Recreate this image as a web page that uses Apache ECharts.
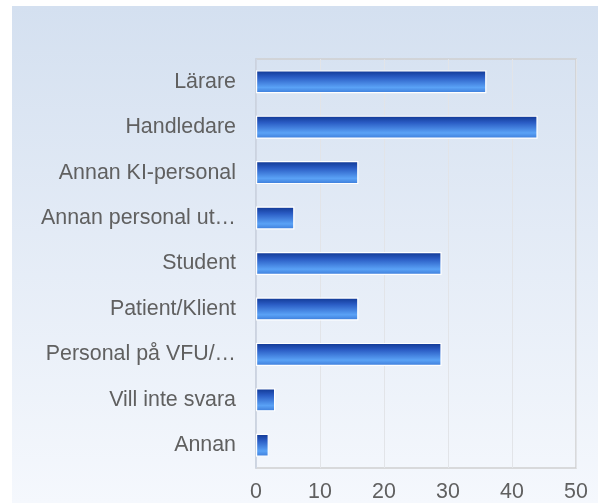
<!DOCTYPE html>
<html>
<head>
<meta charset="utf-8">
<script src="https://cdn.jsdelivr.net/npm/echarts@6/dist/echarts.min.js"></script>
<style>html,body{margin:0;padding:0;background:#fff;}#c{width:598px;height:503px;}</style>
</head>
<body>
<div id="c"></div>
<script>
var categories = ["Lärare", "Handledare", "Annan KI-personal", "Annan personal ut…", "Student", "Patient/Klient", "Personal på VFU/…", "Vill inte svara", "Annan"];
var values = [36, 44, 16, 6, 29, 16, 29, 3, 2];
var xTicks = [0, 10, 20, 30, 40, 50];

var chart = echarts.init(document.getElementById('c'), null, {renderer: 'canvas'});
chart.setOption({
  animation: false,
  backgroundColor: '#ffffff',
  graphic: [{
    type: 'rect', z: -10, silent: true,
    shape: {x: 12, y: 6, width: 586, height: 497},
    style: {fill: new echarts.graphic.LinearGradient(0, 0, 0, 1, [
      {offset: 0, color: '#d4e0f0'}, {offset: 1, color: '#f5f8fd'}])}
  }],
  grid: {left: 256, right: 22, top: 59, bottom: 34, show: true, borderColor: '#cfcfcf', borderWidth: 1.5, backgroundColor: 'transparent'},
  xAxis: {
    type: 'value', min: xTicks[0], max: xTicks[xTicks.length - 1], interval: 10,
    axisLine: {show: false}, axisTick: {show: false},
    splitLine: {show: true, lineStyle: {color: '#e2e4e8', width: 1}},
    axisLabel: {color: '#606060', fontSize: 21.4, fontFamily: 'Liberation Sans, Arial', margin: 14}
  },
  yAxis: {
    type: 'category', data: categories, inverse: true,
    axisLine: {show: true, lineStyle: {color: '#c8d2e2', width: 1.5}},
    axisTick: {show: false},
    axisLabel: {color: '#606060', fontSize: 21.4, fontFamily: 'Liberation Sans, Arial', margin: 20, padding: [3, 0, 0, 0]}
  },
  series: [{
    type: 'bar', data: values, barWidth: 23,
    itemStyle: {
      borderColor: '#ffffff', borderWidth: 1.2,
      color: new echarts.graphic.LinearGradient(0, 0, 0, 1, [
        {offset: 0, color: '#0f3590'},
        {offset: 0.3, color: '#2a5cc4'},
        {offset: 0.75, color: '#5aa2f6'},
        {offset: 1, color: '#3b7ad8'}])
    }
  }]
});
</script>
</body>
</html>
